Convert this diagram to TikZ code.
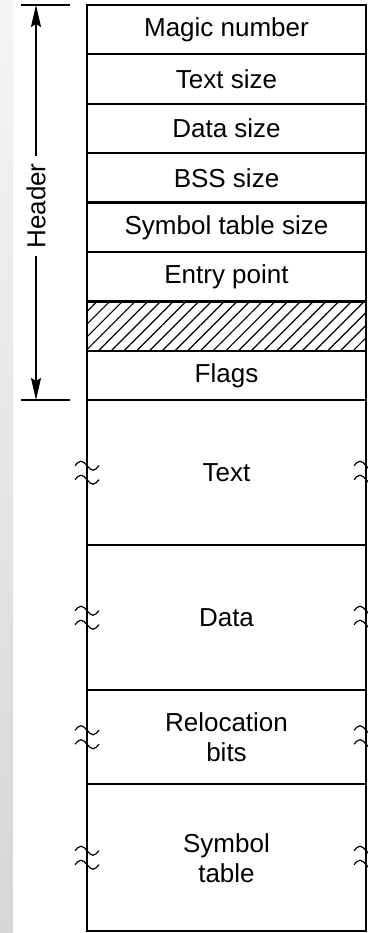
\documentclass[tikz,border=0pt]{standalone}
\usepackage{fontspec}
\setmainfont{Liberation Sans}
\usetikzlibrary{positioning,arrows.meta,patterns.meta}
\def\brk(#1){\draw[brkline] (#1) ++(-12,-7) sin ++(6,-4.5) cos ++(6,4.5) sin ++(6,4.5) cos ++(6,-4.5);
	\draw[brkline] (#1) ++(-12,7) sin ++(6,-4.5) cos ++(6,4.5) sin ++(6,4.5) cos ++(6,-4.5);}
\tikzset{
	field/.style={draw, line width=2.2pt, minimum width=279pt, minimum height=49.4pt,
		inner sep=0pt, outer sep=0pt, align=center, font=\fontsize{26}{30}\selectfont},
	brkline/.style={line width=1.2pt},
	tickline/.style={line width=1.3pt},
}

\begin{document}
\begin{tikzpicture}[x=1pt, y=-1pt]
		%%%%% START %%%%%
		\useasboundingbox (0,0) rectangle (367,933);
		\shade[top color=gray!8, bottom color=gray!32] (0,0) rectangle (13,933);
		
		\node[field, anchor=north west] (magic) at (87,5) {Magic number};
		\node[field, below=0pt of magic] (tsize) {Text size};
		\node[field, below=0pt of tsize] (dsize) {Data size};
		\node[field, below=0pt of dsize] (bsize) {BSS size};
		\node[field, below=0pt of bsize] (ssize) {Symbol table size};
		\node[field, below=0pt of ssize] (entry) {Entry point};
		\node[field, below=0pt of entry, pattern={Lines[angle=45, distance=9pt, line width=1.2pt]}] (unused) {};
		\node[field, below=0pt of unused] (flags) {Flags};
		
		\node[field, below=0pt of flags, minimum height=145pt] (text) {Text};
		\node[field, below=0pt of text, minimum height=145pt] (data) {Data};
		\node[field, below=0pt of data, minimum height=94pt] (reloc) {Relocation\\bits};
		\node[field, below=0pt of reloc, minimum height=147pt] (symtab) {Symbol\\table};
		
		\foreach \s in {text,data,reloc,symtab} {\brk(\s.west) \brk(\s.east)}
		
		% header span
		\coordinate (htop) at (36,5);
		\coordinate (hbot) at (36,400);
		\draw[tickline] (htop) ++(-15,0) -- ++(49,0);
		\draw[tickline] (hbot) ++(-15,0) -- ++(49,0);
		\node[rotate=90, inner sep=7pt, font=\fontsize{26}{30}\selectfont] (hdr) at (36,206) {Header};
		\draw[tickline, -{Stealth[length=22pt, width=10pt, inset=3pt]}] (hdr.east) -- (htop);
		\draw[tickline, -{Stealth[length=22pt, width=10pt, inset=3pt]}] (hdr.west) -- (hbot);
		%%%%% END %%%%%
	\end{tikzpicture}
\end{document}
